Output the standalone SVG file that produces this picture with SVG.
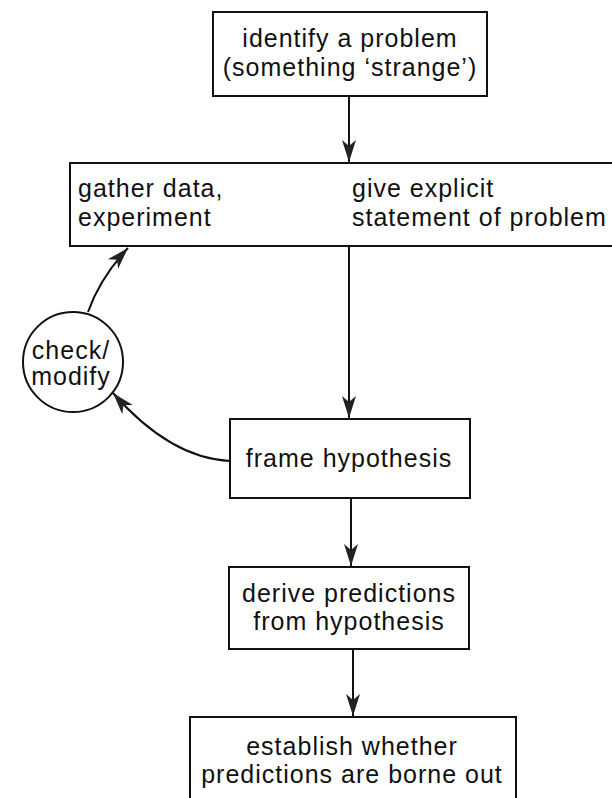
<svg xmlns="http://www.w3.org/2000/svg" width="612" height="798" viewBox="0 0 612 798">
<style>
.box{fill:#fff;stroke:#111;stroke-width:2}
.t{font-family:"Liberation Sans",Arial,sans-serif;font-size:25px;fill:#111;letter-spacing:1px}
.c{text-anchor:middle}
.ln{fill:none;stroke:#111;stroke-width:2}
</style>
<defs>
<marker id="ah" markerUnits="userSpaceOnUse" markerWidth="26" markerHeight="18" viewBox="-24 -9 26 18" refX="0" refY="0" orient="auto-start-reverse">
<path d="M0,0 L-22,-7 L-16,0 L-22,7 Z" fill="#222"/>
</marker>
</defs>
<rect width="612" height="798" fill="#fff"/>
<g id="connectors">
<line class="ln" x1="349" y1="96" x2="349" y2="162" marker-end="url(#ah)"/>
<line class="ln" x1="228" y1="203" x2="342" y2="203" marker-start="url(#ah)" marker-end="url(#ah)"/>
<line class="ln" x1="349" y1="246" x2="349" y2="418" marker-end="url(#ah)"/>
<line class="ln" x1="351" y1="498" x2="351" y2="566" marker-end="url(#ah)"/>
<line class="ln" x1="353" y1="649" x2="353" y2="716" marker-end="url(#ah)"/>
<path class="ln" d="M88,312 Q100,278 128,248" marker-end="url(#ah)"/>
<path class="ln" d="M230,461 Q170,458 113,393" marker-end="url(#ah)"/>
</g>
<g id="n1">
<rect class="box" x="213" y="12" width="274" height="84"/>
<text class="t c" x="350" y="47">identify a problem</text>
<text class="t c" x="350" y="76">(something ‘strange’)</text>
</g>
<g id="n2">
<rect class="box" x="70" y="163" width="560" height="83"/>
<text class="t" x="78" y="197">gather data,</text>
<text class="t" x="78" y="226">experiment</text>
<text class="t" x="352" y="197">give explicit</text>
<text class="t" x="352" y="226">statement of problem</text>
</g>
<g id="n3">
<circle class="box" cx="73" cy="362" r="50"/>
<text class="t c" x="71" y="359">check/</text>
<text class="t c" x="71" y="385">modify</text>
</g>
<g id="n4">
<rect class="box" x="230" y="419" width="240" height="79"/>
<text class="t c" x="349" y="467">frame hypothesis</text>
</g>
<g id="n5">
<rect class="box" x="229" y="567" width="240" height="82"/>
<text class="t c" x="349" y="602">derive predictions</text>
<text class="t c" x="349" y="630">from hypothesis</text>
</g>
<g id="n6">
<rect class="box" x="190" y="717" width="326" height="90"/>
<text class="t c" x="352" y="755">establish whether</text>
<text class="t c" x="352" y="783">predictions are borne out</text>
</g>
</svg>
